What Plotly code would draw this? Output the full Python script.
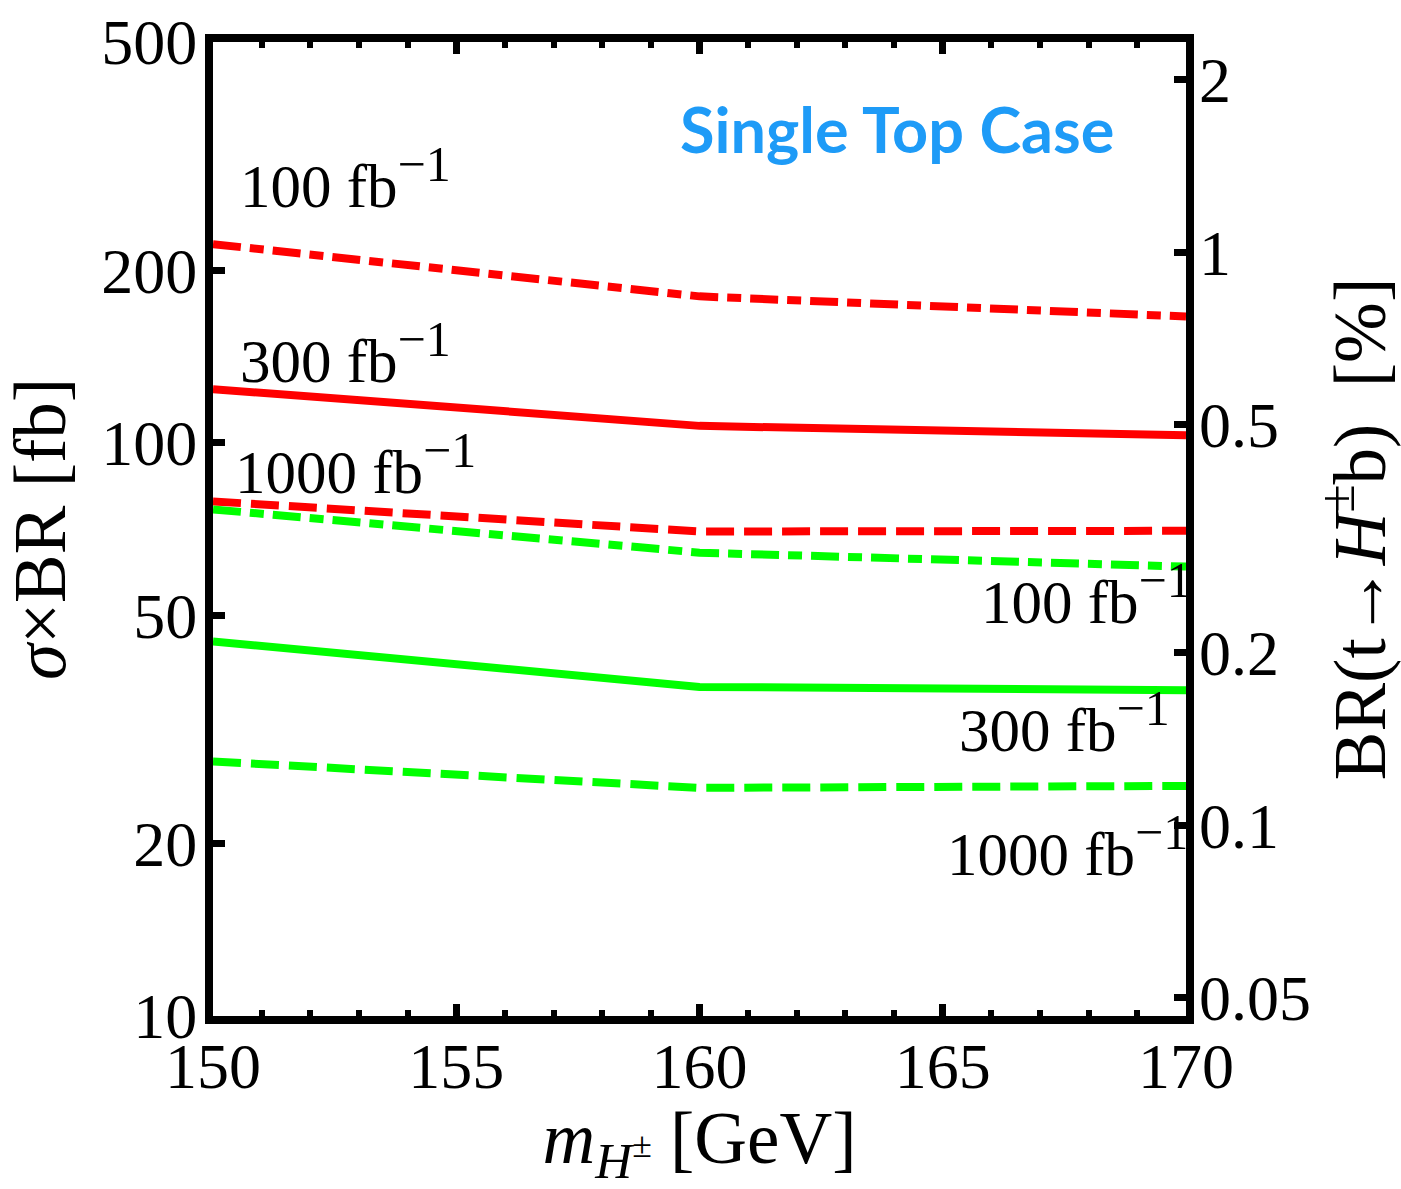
import plotly.graph_objects as go

# ---- data ----
mass = [150, 160, 170]
red_100fb = [222, 180, 166]      # dash-dot
red_300fb = [124, 107, 103]      # solid
red_1000fb = [79, 70, 70.2]      # dashed
green_100fb = [76.5, 64.3, 60.8] # dash-dot
green_300fb = [45, 37.5, 37]     # solid
green_1000fb = [27.8, 25, 25.2]  # dashed

BR_SCALE = 215.0  # sigma x BR [fb] corresponding to BR = 1 %

x_ticks = [150, 155, 160, 165, 170]
y_ticks = [10, 20, 50, 100, 200, 500]
br_ticks = [0.05, 0.1, 0.2, 0.5, 1, 2]
br_tick_labels = ["0.05", "0.1", "0.2", "0.5", "1", "2"]

RED = "#ff0000"
GREEN = "#00ff00"
DASHDOT = "28px,9px,14px,9px"
DASH = "28px,10px"
LW = 8

W, H = 1401, 1189
L, R, T, B = 213, 215, 42, 173
PW, PH = W - L - R, H - T - B


def px(xp):
    return (xp - L) / PW


def py(yp):
    return (H - B - yp) / PH


fig = go.Figure()
series = [
    (red_100fb, RED, DASHDOT),
    (red_300fb, RED, "solid"),
    (red_1000fb, RED, DASH),
    (green_100fb, GREEN, DASHDOT),
    (green_300fb, GREEN, "solid"),
    (green_1000fb, GREEN, DASH),
]
for vals, col, dash in series:
    fig.add_trace(go.Scatter(x=mass, y=vals, mode="lines",
                             line=dict(color=col, width=LW, dash=dash),
                             showlegend=False, hoverinfo="skip"))

# invisible trace on the BR axis so that it is drawn
fig.add_trace(go.Scatter(x=mass, y=[v / BR_SCALE for v in red_300fb], yaxis="y2",
                         mode="lines", line=dict(color="rgba(0,0,0,0)", width=0),
                         showlegend=False, hoverinfo="skip"))

SERIF = "Liberation Serif"
tickfont = dict(family=SERIF, size=64, color="black")
titlefont = dict(family=SERIF, size=73, color="black")

fig.update_layout(
    template="none",
    width=W, height=H,
    margin=dict(l=L, r=R, t=T, b=B, pad=0, autoexpand=False),
    paper_bgcolor="white", plot_bgcolor="white",
    xaxis=dict(range=[150, 170], tickvals=x_ticks, ticktext=[str(v) for v in x_ticks],
               automargin=False, ticklabelstandoff=-13,
               showgrid=False, zeroline=False, showline=True, linewidth=8, linecolor="black",
               mirror="ticks", ticks="inside", ticklen=12, tickwidth=7, tickcolor="black",
               minor=dict(dtick=1, ticks="inside", ticklen=6, tickwidth=6, tickcolor="black", showgrid=False),
               tickfont=tickfont,
               title=dict(text="<i>m</i><sub><i>H</i><sup>±</sup></sub> [GeV]", font=titlefont, standoff=46)),
    yaxis=dict(type="log", range=[1, 2.69897], tickvals=y_ticks, ticktext=[str(v) for v in y_ticks],
               automargin=False, ticklabelstandoff=-5,
               showgrid=False, zeroline=False, showline=True, linewidth=8, linecolor="black",
               mirror=True, ticks="inside", ticklen=12, tickwidth=7, tickcolor="black",
               tickfont=tickfont,
               title=dict(text="<i>σ</i>×BR [fb]", font=titlefont, standoff=18)),
    yaxis2=dict(type="log", overlaying="y", side="right",
                range=[1 - 2.332438, 2.69897 - 2.332438],
                automargin=False, ticklabelstandoff=12,
                tickvals=br_ticks, ticktext=br_tick_labels,
                showgrid=False, zeroline=False, showline=False,
                ticks="inside", ticklen=12, tickwidth=7, tickcolor="black",
                tickfont=tickfont,
                title=dict(text="BR(t→<i>H</i><sup>±</sup>b)\u00a0\u00a0[%]", font=titlefont, standoff=45)),
)

ann_font = dict(family=SERIF, size=61, color="black")
SUP = '<sup><span style="font-size:50px">−1</span></sup>'
labels_left = [("100 fb" + SUP, 238, 178), ("300 fb" + SUP, 238, 353), ("1000 fb" + SUP, 233, 464)]
labels_right = [("100 fb" + SUP, 1194, 594), ("300 fb" + SUP, 1172, 722), ("1000 fb" + SUP, 1190, 846)]
for txt, xp, yp in labels_left:
    fig.add_annotation(text=txt, xref="paper", yref="paper", x=px(xp), y=py(yp),
                       xanchor="left", yanchor="middle", showarrow=False, font=ann_font)
for txt, xp, yp in labels_right:
    fig.add_annotation(text=txt, xref="paper", yref="paper", x=px(xp), y=py(yp),
                       xanchor="right", yanchor="middle", showarrow=False, font=ann_font)

fig.add_annotation(text="<b>Single Top Case</b>", xref="paper", yref="paper",
                   x=px(897), y=py(128), xanchor="center", yanchor="middle", showarrow=False,
                   font=dict(family="Lato", size=63, color="#1e9bf7"))

fig.write_html("out.html")
